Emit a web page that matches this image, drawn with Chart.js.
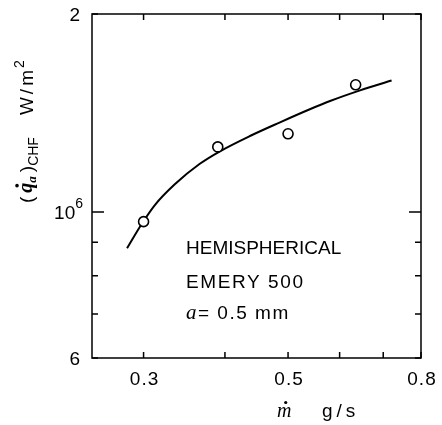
<!DOCTYPE html>
<html>
<head>
<meta charset="utf-8">
<script src="https://cdn.jsdelivr.net/npm/chart.js@4"></script>
<style>
  html, body { margin: 0; padding: 0; background: #fff; }
  #wrap { width: 442px; height: 425px; }
</style>
</head>
<body>
<div id="wrap"><canvas id="c" width="442" height="425"></canvas></div>
<script>
// ---- data ----
const measuredX = [0.300, 0.390, 0.500, 0.635];           // m-dot, g/s
const measuredY = [9.67e5, 1.256e6, 1.315e6, 1.561e6];    // (q_a)CHF, W/m^2

const curveX = [0.283, 0.298, 0.312, 0.335, 0.366, 0.393, 0.437, 0.486, 0.540, 0.580, 0.645, 0.721];
const curveY = [8.81e5, 9.59e5, 1.024e6, 1.102e6, 1.184e6, 1.237e6, 1.305e6, 1.369e6, 1.433e6, 1.475e6, 1.531e6, 1.585e6];

const xTickValues = [0.3, 0.4, 0.5, 0.6, 0.7, 0.8];
const xTickLabels = ['0.3', '', '0.5', '', '', '0.8'];
const yTickValues = [6e5, 7e5, 8e5, 9e5, 1e6, 2e6];
const yTickLabels = ['6', '', '', '', '10|6', '2'];   // '|' separates base and exponent
const yMajorTicks = [1e6];

const annotationLines = ['HEMISPHERICAL', 'EMERY 500', '= 0.5 mm'];

const FONT = '"Liberation Sans", Arial, Helvetica, sans-serif';
const SERIF = '"Liberation Serif", "DejaVu Serif", serif';

function setLS(ctx, v) { if ('letterSpacing' in ctx) ctx.letterSpacing = v; }

const framePlugin = {
  id: 'frame',
  afterDatasetsDraw(chart) {
    const ctx = chart.ctx, a = chart.chartArea;
    const xs = chart.scales.x, ys = chart.scales.y;
    ctx.save();
    ctx.strokeStyle = '#000';
    ctx.lineWidth = 1.5;
    ctx.strokeRect(a.left, a.top, a.right - a.left, a.bottom - a.top);
    // inward ticks on all four sides
    ctx.beginPath();
    xTickValues.forEach(v => {
      const px = xs.getPixelForValue(v);
      ctx.moveTo(px, a.bottom); ctx.lineTo(px, a.bottom - 6);
      ctx.moveTo(px, a.top); ctx.lineTo(px, a.top + 6);
    });
    yTickValues.forEach(v => {
      const py = ys.getPixelForValue(v);
      const len = yMajorTicks.includes(v) ? 12 : 6;
      ctx.moveTo(a.left, py); ctx.lineTo(a.left + len, py);
      ctx.moveTo(a.right, py); ctx.lineTo(a.right - len, py);
    });
    ctx.stroke();
    ctx.restore();
  },
  afterDraw(chart) {
    const ctx = chart.ctx, a = chart.chartArea;
    const xs = chart.scales.x, ys = chart.scales.y;
    ctx.save();
    ctx.fillStyle = '#000';
    // x tick labels
    ctx.font = '19px ' + FONT;
    ctx.textAlign = 'center';
    ctx.textBaseline = 'alphabetic';
    setLS(ctx, '1px');
    xTickValues.forEach((v, i) => {
      const t = xTickLabels[i];
      if (!t) return;
      ctx.fillText(t, xs.getPixelForValue(v) + 1, a.bottom + 27);
    });
    setLS(ctx, '0px');
    // y tick labels
    yTickValues.forEach((v, i) => {
      const t = yTickLabels[i];
      if (!t) return;
      const py = ys.getPixelForValue(v);
      ctx.textAlign = 'right';
      if (t.includes('|')) {
        const [base, exp] = t.split('|');
        ctx.font = '14px ' + FONT;
        ctx.fillText(exp, 83, py - 4);
        const ew = ctx.measureText(exp).width;
        ctx.font = '19px ' + FONT;
        ctx.fillText(base, 83 - ew, py + 6.5);
      } else {
        ctx.font = '19px ' + FONT;
        ctx.fillText(t, 80, py + 6.5);
      }
    });
    // x-axis title:  m-dot   g/s
    ctx.textAlign = 'left';
    ctx.font = 'italic 20px ' + SERIF;
    const mx = 277, by = 417;
    ctx.fillText('m', mx, by);
    const mw = ctx.measureText('m').width;
    ctx.beginPath();
    ctx.arc(mx + mw / 2 + 1.5, by - 14.5, 1.6, 0, Math.PI * 2);
    ctx.fill();
    ctx.font = '19px ' + FONT;
    setLS(ctx, '4px');
    ctx.fillText('g/s', 322, by);
    setLS(ctx, '0px');

    // y-axis title (rotated): ( q-dot_a )_CHF   W/m^2
    ctx.save();
    ctx.translate(33, 203);
    ctx.rotate(-Math.PI / 2);
    let x = 0;
    ctx.font = '19px ' + FONT;
    ctx.fillText('(', x, 0); x += ctx.measureText('(').width + 4;
    ctx.font = 'italic bold 20px ' + SERIF;
    ctx.fillText('q', x, -1);
    const qw = ctx.measureText('q').width;
    ctx.beginPath(); ctx.arc(x + qw / 2 + 2, -16, 1.8, 0, Math.PI * 2); ctx.fill();
    x += qw;
    ctx.font = 'italic bold 13px ' + SERIF;
    ctx.fillText('a', x, 3); x += ctx.measureText('a').width + 4;
    ctx.font = '19px ' + FONT;
    ctx.fillText(')', x, 0); x += ctx.measureText(')').width;
    ctx.font = '14px ' + FONT;
    ctx.fillText('CHF', x, 5); x += ctx.measureText('CHF').width + 22;
    ctx.font = '19px ' + FONT;
    setLS(ctx, '3px');
    ctx.fillText('W/m', x, 0); x += ctx.measureText('W/m').width - 1;
    setLS(ctx, '0px');
    ctx.font = '14px ' + FONT;
    ctx.fillText('2', x, -9);
    ctx.restore();

    // annotation text
    ctx.font = '19px ' + FONT;
    ctx.textAlign = 'left';
    ctx.fillText(annotationLines[0], 186, 254);
    setLS(ctx, '1.6px');
    ctx.fillText(annotationLines[1], 186, 288);
    ctx.font = 'italic 21px ' + SERIF;
    setLS(ctx, '0px');
    ctx.fillText('a', 186, 319);
    ctx.font = '19px ' + FONT;
    setLS(ctx, '1.5px');
    ctx.fillText(annotationLines[2], 198, 319);
    setLS(ctx, '0px');
    ctx.restore();
  }
};

const toPts = (xs, ys) => xs.map((v, i) => ({ x: v, y: ys[i] }));

new Chart(document.getElementById('c'), {
  type: 'scatter',
  data: {
    datasets: [
      {
        label: 'measured',
        data: toPts(measuredX, measuredY),
        order: 0,
        showLine: false,
        pointStyle: 'circle',
        pointRadius: 5,
        pointBorderWidth: 1.6,
        pointBackgroundColor: '#fff',
        pointBorderColor: '#000'
      },
      {
        label: 'fit',
        data: toPts(curveX, curveY),
        order: 1,
        showLine: true,
        tension: 0.4,
        cubicInterpolationMode: 'monotone',
        borderColor: '#000',
        borderWidth: 2,
        pointRadius: 0,
        fill: false
      }
    ]
  },
  options: {
    responsive: false,
    devicePixelRatio: 1,
    animation: false,
    events: [],
    layout: { padding: { top: 14, right: 21, left: 0, bottom: 0 } },
    plugins: { legend: { display: false }, tooltip: { enabled: false } },
    scales: {
      x: {
        type: 'logarithmic',
        min: 0.25,
        max: 0.8,
        grid: { display: false, drawTicks: false },
        border: { display: false },
        ticks: { display: false },
        afterBuildTicks: s => { s.ticks = xTickValues.map(v => ({ value: v })); },
        afterFit: s => { s.height = 67; }
      },
      y: {
        type: 'logarithmic',
        min: 6e5,
        max: 2e6,
        grid: { display: false, drawTicks: false },
        border: { display: false },
        ticks: { display: false },
        afterBuildTicks: s => { s.ticks = yTickValues.map(v => ({ value: v })); },
        afterFit: s => { s.width = 92; }
      }
    }
  },
  plugins: [framePlugin]
});
</script>
</body>
</html>
